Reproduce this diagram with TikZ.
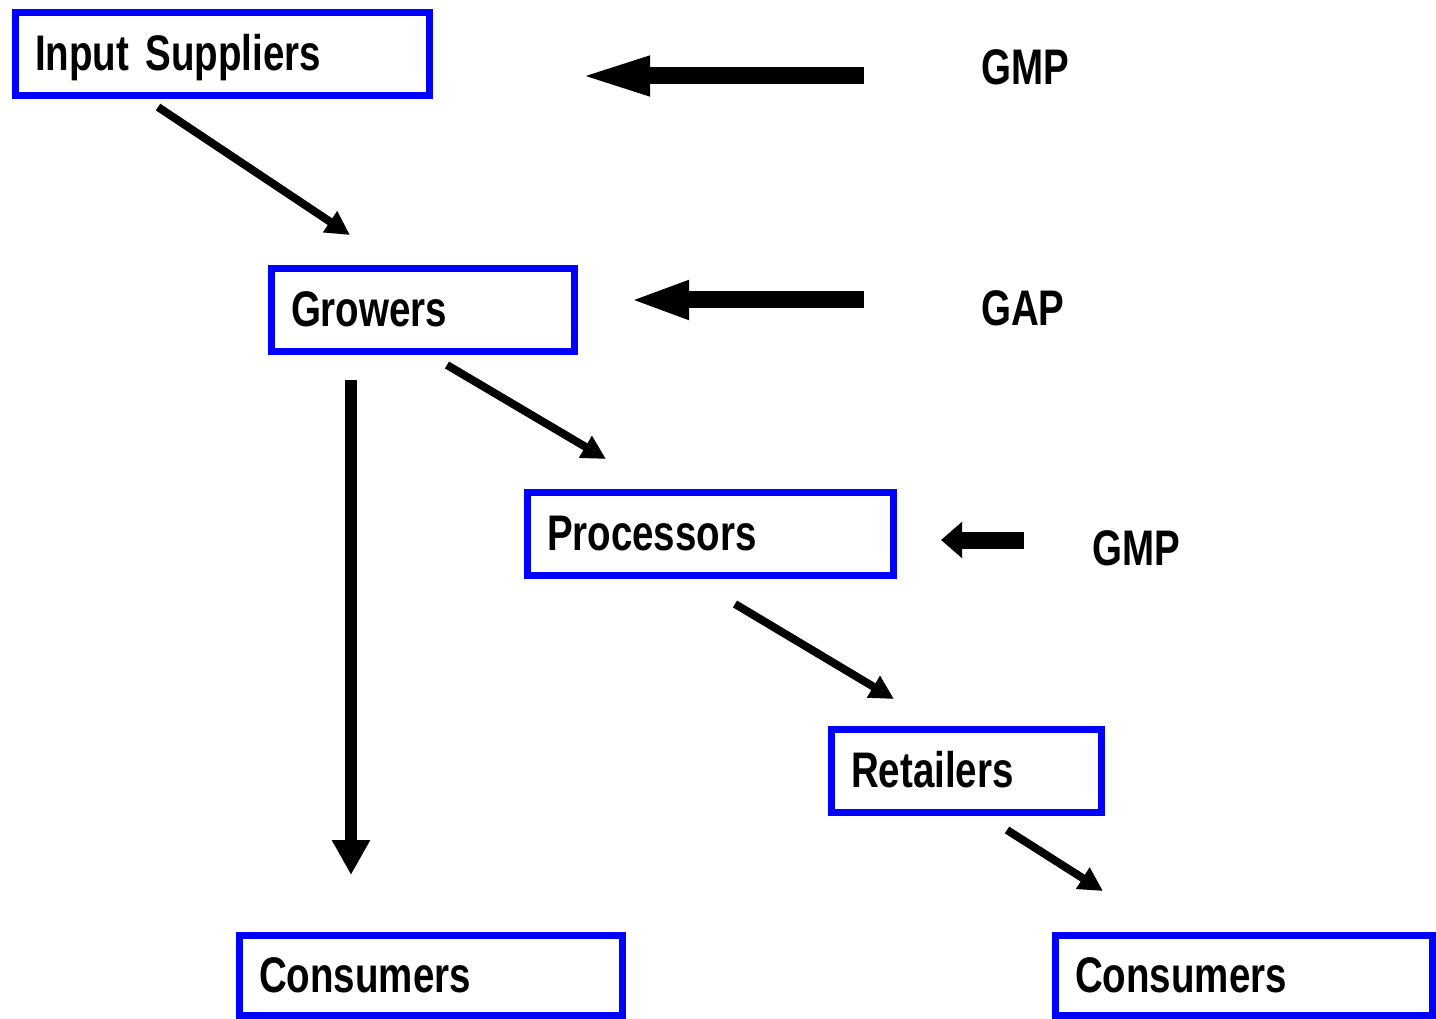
\documentclass[tikz,border=0pt]{standalone}
\usepackage{fontspec}
\setmainfont{Liberation Sans}[FakeStretch=0.77]
\usetikzlibrary{arrows.meta}
\DeclareRobustCommand\tightspace{\spaceskip=8pt\relax}

\begin{document}
\begin{tikzpicture}
		[x=1pt,y=-1pt,
		 font=\fontsize{50}{60}\selectfont\bfseries\tightspace,
		 box/.style= {draw=blue,line width=7pt,inner xsep=19.5pt,inner ysep=0pt,align=left,
		              text height=36pt,text depth=3pt,minimum height=83pt},
		 tag/.style= {anchor=base west,inner sep=0pt},
		 flow/.style= {line width=8pt,-{Triangle[length=24pt,width=24pt]}},
		 downflow/.style= {line width=12pt,-{Triangle[length=35pt,width=36pt]}},
		 wideflow/.style= {line width=17pt,-{Triangle[length=#1,width=35pt]}}]

		\useasboundingbox (0,0) rectangle (1436,1019);

		\node[box,text width=375pt] (suppliers) at (222.5,54.5) {Input Suppliers};
		\node[box,text width=264pt] (growers) at (423,310) {Growers};
		\node[box,text width=327pt] (processors) at (710.5,534) {Processors};
		\node[box,text width=231pt] (retailers) at (966.5,771) {Retailers};
		\node[box,text width=344pt,minimum height=80pt] (consumers1) at (431,975.5) {Consumers};
		\node[box,text width=338pt,minimum height=80pt] (consumers2) at (1244,975.5) {Consumers};

		\node[tag] (gmp1) at (981,85) {GMP};
		\node[tag] (gap) at (981,325) {GAP};
		\node[tag] (gmp2) at (1092,565) {GMP};

		\coordinate (s-out) at (158,107);
		\coordinate (g-in) at (350,235);
		\coordinate (g-out) at (447,365);
		\coordinate (p-in) at (606,459);
		\coordinate (p-out) at (735,604);
		\coordinate (r-in) at (894,699);
		\coordinate (r-out) at (1007,830);
		\coordinate (c2-in) at (1103,891);
		\coordinate (g-down) at (351,380);
		\coordinate (c1-in) at (351,875);

		\coordinate (gmp1-from) at (864,76);
		\coordinate (gmp1-to) at (577,76);
		\coordinate (gap-from) at (864,300);
		\coordinate (gap-to) at (629,300);
		\coordinate (gmp2-from) at (1024,540);
		\coordinate (gmp2-to) at (941,540);

		\draw[flow] (s-out) -- (g-in);
		\draw[flow] (g-out) -- (p-in);
		\draw[flow] (p-out) -- (r-in);
		\draw[flow] (r-out) -- (c2-in);
		\draw[downflow] (g-down) -- (c1-in);

		\draw[wideflow=73pt] (gmp1-from) -- (gmp1-to);
		\draw[wideflow=60pt] (gap-from) -- (gap-to);
		\draw[wideflow=21pt] (gmp2-from) -- (gmp2-to);

	\end{tikzpicture}
\end{document}
